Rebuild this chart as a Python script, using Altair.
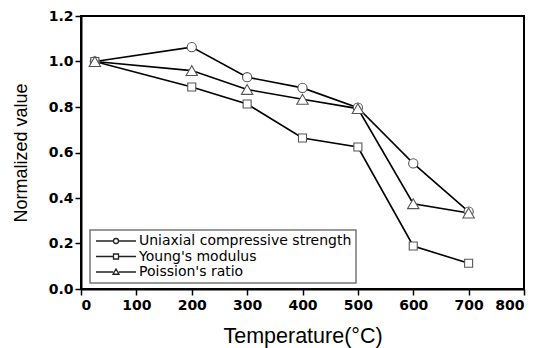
import altair as alt
import pandas as pd

temps = [25, 200, 300, 400, 500, 600, 700]
ucs = [1.0, 1.063, 0.931, 0.884, 0.797, 0.552, 0.340]
young = [1.0, 0.888, 0.813, 0.664, 0.624, 0.189, 0.113]
poisson = [1.0, 0.960, 0.877, 0.834, 0.793, 0.375, 0.334]
series_names = ["Uniaxial compressive strength", "Young's modulus", "Poission's ratio"]
x_ticks = list(range(0, 801, 50))
y_ticks = [round(i * 0.1, 1) for i in range(0, 13)]

rows = []
for name, vals in zip(series_names, [ucs, young, poisson]):
    for t, v in zip(temps, vals):
        rows.append({"T": t, "v": v, "series": name})
df = pd.DataFrame(rows)

# legend symbols: line - marker - line
leg_circle = "M-1,0H2.5M3.5,0A0.5,0.5,0,1,1,2.5,0A0.5,0.5,0,1,1,3.5,0M3.5,0H7"
leg_square = "M-1,0H2.5M2.5,-0.5H3.5V0.5H2.5ZM3.5,0H7"
leg_tri = "M-1,0H2.45M3,-0.6L3.6,0.45H2.4ZM3.55,0H7"

xenc = alt.X("T:Q", scale=alt.Scale(domain=[0, 800], nice=False),
             axis=alt.Axis(values=x_ticks, title="Temperature(°C)",
                           labelExpr="datum.value % 100 === 0 ? datum.label : ''",
                           tickSize={"condition": {"test": "datum.value % 100 !== 0", "value": 3}, "value": 6},
                           labelOverlap=False, grid=False, titlePadding=13, labelPadding=3))
yenc = alt.Y("v:Q", scale=alt.Scale(domain=[0, 1.2], nice=False),
             axis=alt.Axis(values=y_ticks, title="Normalized value", format=".1f",
                           labelExpr="round(datum.value*10) % 2 === 0 ? datum.label : ''",
                           tickSize={"condition": {"test": "round(datum.value*10) % 2 === 1", "value": 3}, "value": 6},
                           labelOverlap=False, grid=False, titlePadding=18, labelPadding=2))

base = alt.Chart(df)

lines = base.mark_line(color="black", strokeWidth=1.6).encode(
    x=xenc, y=yenc, detail="series:N")

points = base.mark_point(filled=False, fill="white", fillOpacity=1, stroke="#555", strokeWidth=1.1, opacity=1).encode(
    x="T:Q", y="v:Q",
    shape=alt.Shape("series:N", scale=alt.Scale(domain=series_names, range=["circle", "square", "triangle-up"]), legend=None),
    size=alt.Size("series:N", scale=alt.Scale(type="ordinal", domain=series_names, range=[85, 64, 130]), legend=None),
)

legend_layer = base.transform_filter("false").mark_point(filled=False, color="#222", strokeWidth=1.3, opacity=1).encode(
    x="T:Q", y="v:Q",
    shape=alt.Shape("series:N",
                    scale=alt.Scale(domain=series_names, range=[leg_circle, leg_square, leg_tri]),
                    legend=alt.Legend(title=None, orient="none", legendX=9, legendY=214,
                                      symbolSize=100, symbolOpacity=1,
                                      symbolStrokeColor="#222", symbolStrokeWidth=1.3,
                                      labelFont="DejaVu Sans", labelFontSize=14, labelColor="black",
                                      labelLimit=0,
                                      labelOffset=31, rowPadding=1.5, padding=4,
                                      strokeColor="#777", fillColor="white")),
)

chart = alt.layer(lines, points, legend_layer).resolve_scale(
    shape="independent", size="independent"
).properties(
    width=443, height=273,
    padding={"left": 81, "top": 16, "right": 24, "bottom": 59},
    autosize=alt.AutoSizeParams(type="none"),
).configure_view(stroke="black", strokeWidth=2).configure_axis(
    domainColor="black", domainWidth=2, tickColor="black", tickWidth=1.5,
    labelFont="DejaVu Sans", labelFontWeight="bold", labelFontSize=14, labelColor="black",
    titleFont="Liberation Sans", titleFontWeight="normal", titleColor="black",
).configure_axisX(titleFontSize=21.5).configure_axisY(titleFontSize=18).configure_legend(strokeWidth=1.5)

chart.save("out.html", embed_options={"renderer": "svg", "actions": False})
